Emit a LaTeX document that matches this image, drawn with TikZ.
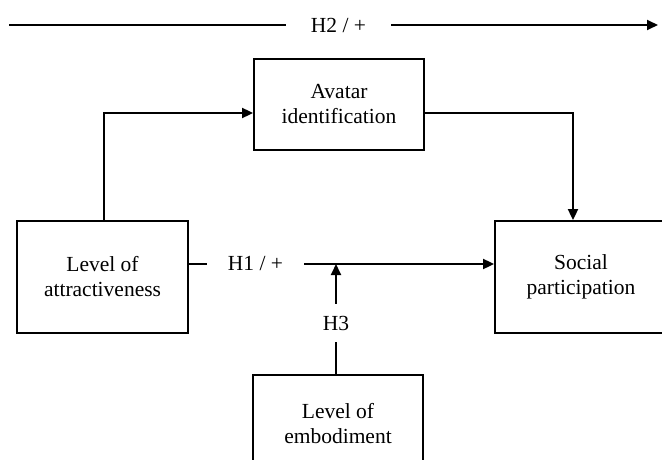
\documentclass[tikz,border=0pt]{standalone}
\usepackage{fontspec}
\setmainfont{Liberation Serif}
\usetikzlibrary{arrows.meta}
\begin{document}
\begin{tikzpicture}[x=1pt,y=-1pt,
  box/.style={draw,line width=1.8pt,align=center,font=\fontsize{21.5}{25}\selectfont,inner sep=0pt},
  boxtext/.style={align=center,font=\fontsize{21.5}{25}\selectfont,inner sep=0pt},
  lbl/.style={font=\fontsize{21.5}{25}\selectfont,inner ysep=2pt},
  conn/.style={line width=1.8pt},
  arr/.style={conn,-{Triangle[length=11pt,width=10pt]}}]
\path[use as bounding box,clip] (0,0) rectangle (662,460);
\node[box,minimum width=170pt,minimum height=91pt] (avatar) at (339,104.5) {Avatar\\identification};
\node[box,minimum width=171pt,minimum height=112pt] (attract) at (102.5,277) {Level of\\attractiveness};
\node[box,minimum width=172pt,minimum height=112pt] (social) at (581,277) {Social\\participation};
\node[box,minimum width=170pt,minimum height=91pt] (embod) at (338,420.5) {};
\node[boxtext] (embodtext) at (338,424) {Level of\\embodiment};
\node[lbl,inner xsep=25pt] (h2) at (338.5,25) {H2 / +};
\node[lbl,inner xsep=21pt] (h1) at (255.5,264) {H1 / +};
\node[lbl,inner xsep=3pt,inner ysep=12pt] (h3) at (336,323) {H3};
\coordinate (h2s) at (9,25);
\coordinate (h2e) at (658,25);
\draw[conn] (h2s) -- (h2.west);
\draw[arr] (h2.east) -- (h2e);
\draw[arr] ([xshift=1.5pt]attract.north) |- ([yshift=-8.5pt]avatar.west);
\draw[arr] ([yshift=-8.5pt]avatar.east) -| ([xshift=-8pt]social.north);
\draw[conn] (h1.west -| attract.east) -- (h1.west);
\draw[arr] (h1.east) -- (h1.east -| social.west);
\draw[conn] (embod.north -| h3.south) -- (h3.south);
\draw[arr] (h3.north) -- (h3.north |- h1);
\end{tikzpicture}
\end{document}
